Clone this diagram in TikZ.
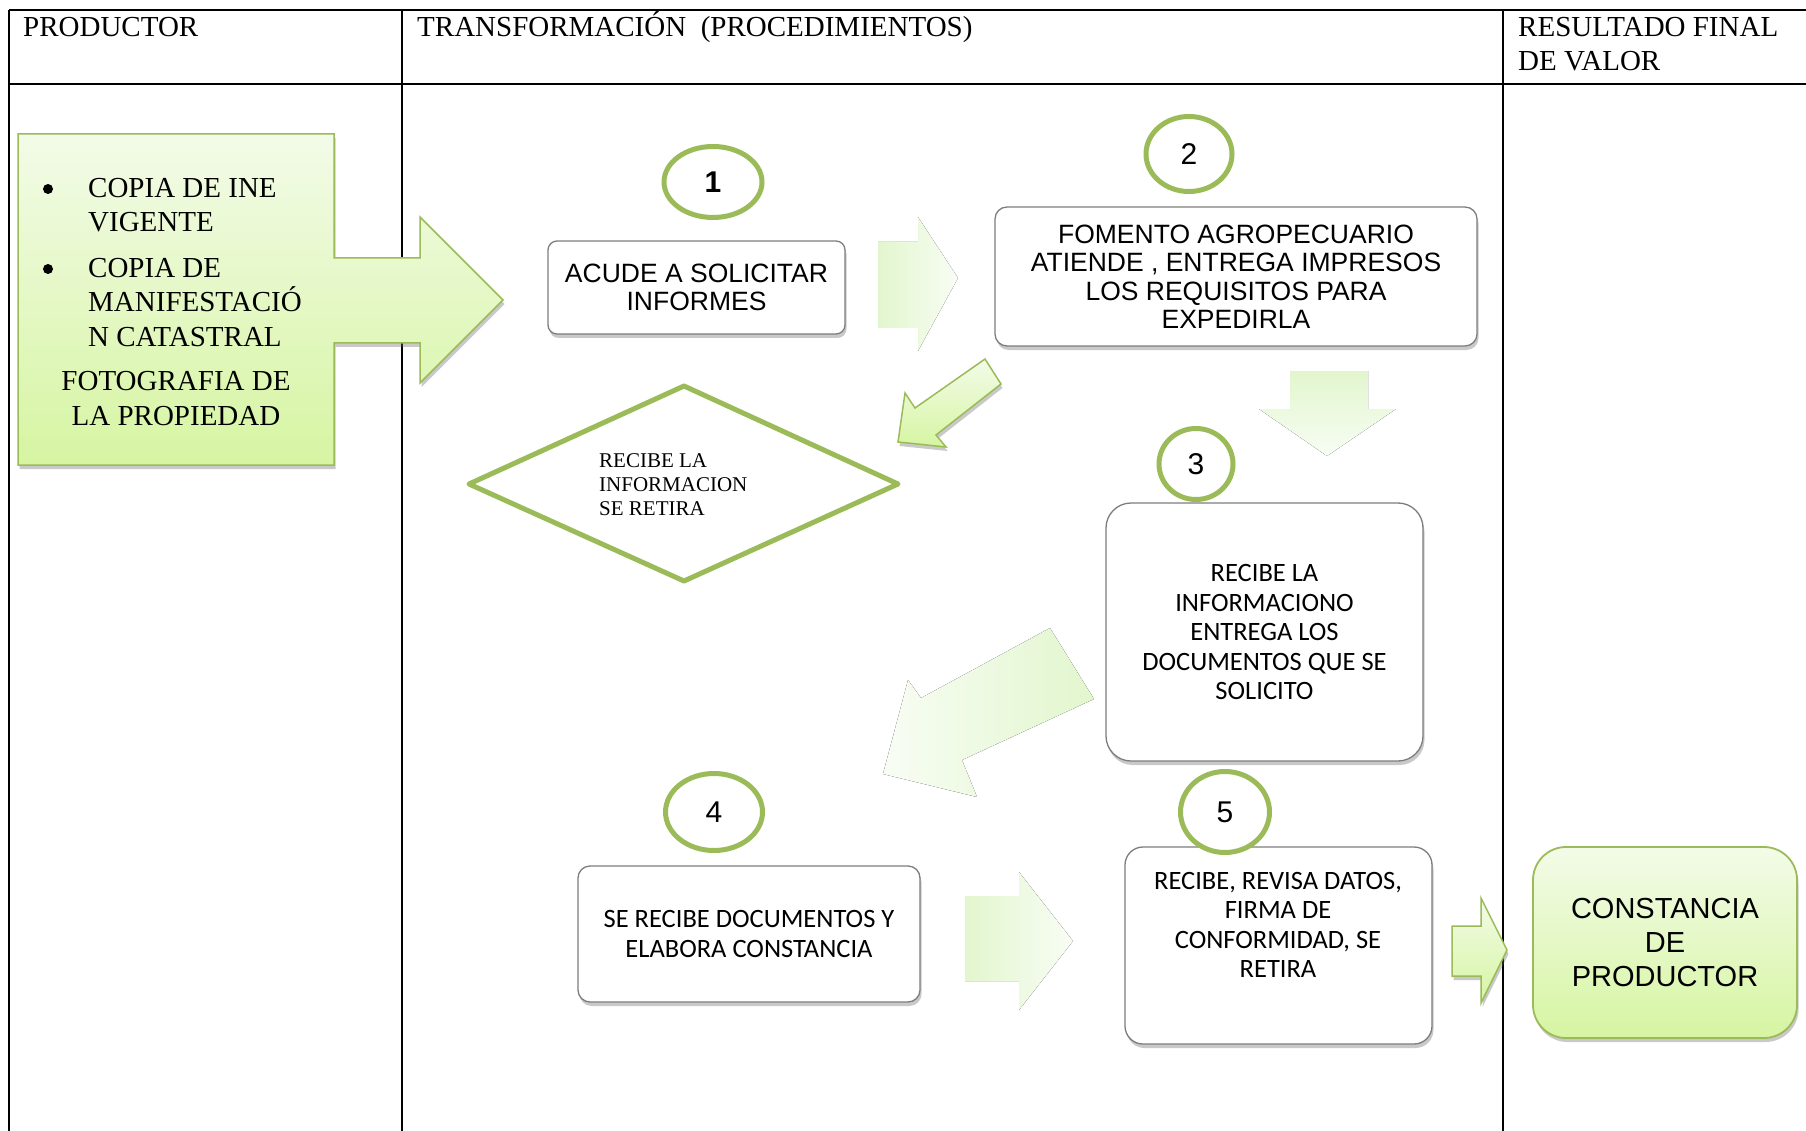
\documentclass[tikz,border=0pt]{standalone}
\usepackage{fontspec}
\setmainfont{Liberation Serif}
\newfontfamily\arialf{Liberation Sans}
\newfontfamily\calib{Carlito}
\usetikzlibrary{shadows,shapes.geometric}
\definecolor{gborder}{RGB}{155,187,89}
\definecolor{gtop}{RGB}{243,251,232}
\definecolor{gbot}{RGB}{214,245,162}
\definecolor{pale1}{RGB}{226,246,206}
\definecolor{pale2}{RGB}{248,253,244}
\definecolor{boxline}{RGB}{125,125,125}
\begin{document}
\begin{tikzpicture}[x=1pt,y=-1pt,
  tline/.style={line width=1.8pt,black},
  hdr/.style={font=\fontsize{29}{34}\selectfont, anchor=base west, inner sep=0},
  ltxt/.style={font=\fontsize{29}{34}\selectfont, inner sep=0},
  dtxt/.style={font=\fontsize{21}{24}\selectfont, inner sep=0, anchor=base west},
  shad/.style={drop shadow={shadow xshift=1.5pt,shadow yshift=-4pt,opacity=0.35,fill=black!60}},
  procbox/.style={shad,draw=boxline,line width=1.3pt,fill=white,rectangle,inner sep=0,align=center},
  arialtxt/.style={font=\arialf\fontsize{26.5}{28.5}\selectfont},
  calibtxt/.style={font=\calib\fontsize{26.5}{29.5}\selectfont},
  numc/.style={ellipse,draw=gborder,line width=5pt,fill=white,inner sep=0,font=\arialf\fontsize{30}{34}\selectfont},
  palearrow/.style={left color=pale1,right color=pale2,draw=none},
  greenarrow/.style={shad,draw=gborder,line width=1.5pt,top color=gtop,bottom color=gbot}
]
\useasboundingbox (0,0) rectangle (1806,1131);
\fill[white] (0,0) rectangle (1806,1131);

% table
\draw[tline] (9,10) -- (1806,10);
\draw[tline] (9,84) -- (1806,84);
\draw[tline] (9,10) -- (9,1131);
\draw[tline] (402,10) -- (402,1131);
\draw[tline] (1503,10) -- (1503,1131);
\node[hdr] (hp) at (23,37) {PRODUCTOR};
\node[hdr] (ht) at (417,37) {TRANSFORMACIÓN\ \ (PROCEDIMIENTOS)};
\node[hdr] (hr1) at (1518,37) {RESULTADO FINAL};
\node[hdr] (hr2) at (1518,71) {DE VALOR};

% producer box with arrow
\draw[shad,draw=gborder,line width=1.5pt,top color=gtop,bottom color=gbot]
  (18,134) -- (334,134) -- (334,258) -- (420,258) -- (420,217) -- (503,300)
  -- (420,383) -- (420,343) -- (334,343) -- (334,465) -- (18,465) -- cycle;
\fill (48,189) circle (5pt);
\fill (48,269) circle (5pt);
\node[ltxt, anchor=base west] (l1) at (88,198) {COPIA DE INE};
\node[ltxt, anchor=base west] (l2) at (88,232) {VIGENTE};
\node[ltxt, anchor=base west] (l3) at (88,278) {COPIA DE};
\node[ltxt, anchor=base west] (l4) at (88,312) {MANIFESTACIÓ};
\node[ltxt, anchor=base west] (l5) at (88,346) {N CATASTRAL};
\node[ltxt, anchor=base] (l6) at (176,390) {FOTOGRAFIA DE};
\node[ltxt, anchor=base] (l7) at (176,425) {LA PROPIEDAD};

% process boxes
\node[procbox,arialtxt,rounded corners=9pt,minimum width=297pt,minimum height=93pt] (b1) at (696.5,287.5) {ACUDE A SOLICITAR\\INFORMES};
\node[procbox,arialtxt,rounded corners=12pt,minimum width=482pt,minimum height=139pt] (b2) at (1236,276.5) {FOMENTO AGROPECUARIO\\ATIENDE , ENTREGA IMPRESOS\\LOS REQUISITOS PARA\\EXPEDIRLA};
\node[procbox,calibtxt,rounded corners=25pt,minimum width=317pt,minimum height=258pt] (b3) at (1264.5,632) {RECIBE LA\\INFORMACIONO\\ENTREGA LOS\\DOCUMENTOS QUE SE\\SOLICITO};
\node[procbox,calibtxt,rounded corners=12pt,minimum width=342pt,minimum height=136pt] (b4) at (749,934) {SE RECIBE DOCUMENTOS Y\\ELABORA CONSTANCIA};
\node[procbox,rounded corners=18pt,minimum width=307pt,minimum height=197pt] (b5) at (1278.5,945.5) {};
\node[calibtxt,align=center,inner sep=0] (b5t) at (1278,925) {RECIBE, REVISA DATOS,\\FIRMA DE\\CONFORMIDAD, SE\\RETIRA};
\node[shad,draw=gborder,line width=1.8pt,top color=gtop,bottom color=gbot,rounded corners=33pt,minimum width=264pt,minimum height=191pt,inner sep=0,align=center,font=\arialf\fontsize{29}{34}\selectfont] (bc) at (1665,942.5) {CONSTANCIA\\DE\\PRODUCTOR};

% diamond
\draw[gborder,line width=5pt,line join=round,fill=white] (469,484) -- (684,386) -- (898,484) -- (684,581) -- cycle;
\node[dtxt] (d1) at (599,467) {RECIBE LA};
\node[dtxt] (d2) at (599,491) {INFORMACION};
\node[dtxt] (d3) at (599,515) {SE RETIRA};

% block arrows
\fill[palearrow] (878,242) -- (918,242) -- (918,217) -- (958,278) -- (918,351) -- (918,328) -- (878,328) -- cycle;
\fill[top color=pale1,bottom color=pale2] (1290,371) -- (1368,371) -- (1368,409) -- (1396,409) -- (1327,456) -- (1259,409) -- (1290,409) -- cycle;
\fill[left color=pale2,right color=pale1] (1050,628) -- (1094,699) -- (962,760) -- (977,797) -- (883,774) -- (908,680) -- (921,698) -- cycle;
\fill[palearrow] (965,896) -- (1019,896) -- (1019,872) -- (1073,941) -- (1019,1010) -- (1019,981) -- (965,981) -- cycle;
\draw[greenarrow] (985,359) -- (1001,384) -- (936,435) -- (946,447) -- (898,442) -- (905,393) -- (915,408) -- cycle;
\draw[greenarrow] (1452,926) -- (1481,926) -- (1481,898) -- (1507,950) -- (1481,1003) -- (1481,976) -- (1452,976) -- cycle;

% numbers
\node[numc,minimum width=98pt,minimum height=71pt] (n1) at (713,182) {\bfseries 1};
\node[numc,minimum width=86pt,minimum height=75pt] (n2) at (1189,154) {2};
\node[numc,minimum width=74pt,minimum height=71pt] (n3) at (1196,464) {3};
\node[numc,minimum width=97pt,minimum height=77pt] (n4) at (714,812) {4};
\node[numc,minimum width=89pt,minimum height=81pt] (n5) at (1225,812) {5};
\end{tikzpicture}
\end{document}
